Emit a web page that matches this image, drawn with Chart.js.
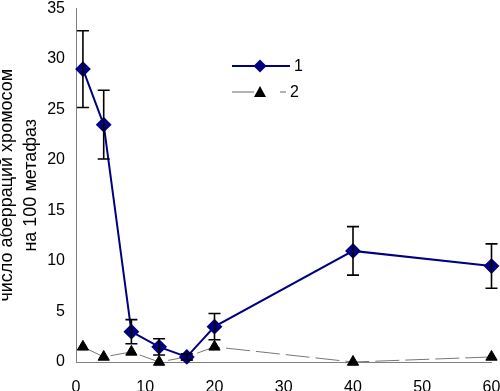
<!DOCTYPE html>
<html>
<head>
<meta charset="utf-8">
<script src="https://cdn.jsdelivr.net/npm/chart.js@4"></script>
<style>
  html, body { margin: 0; padding: 0; background: #fff; }
  #wrap { width: 500px; height: 391px; }
</style>
</head>
<body>
<div id="wrap"><canvas id="plot"></canvas></div>
<script>
// time points
const xs = [1, 4, 8, 12, 16, 20, 40, 60];
// series 1 with error bars
const s1 = [29, 23.5, 3, 1.5, 0.5, 3.5, 11, 9.5];
const s1Low = [25.2, 20.1, 1.8, 0.7, 0.2, 2.2, 8.6, 7.3];
const s1High = [32.8, 26.9, 4.2, 2.3, 0.8, 4.8, 13.4, 11.7];
// series 2
const s2 = [1.5, 0.5, 1.0, 0, 0.5, 1.5, 0, 0.5];
const labels = ["1", "2"];
const yTitle = ["число аберраций хромосом", "на 100 метафаз"];

const FONT = "'Liberation Sans', Arial, sans-serif";

const errorBars = {
  id: "errorBars",
  afterDatasetsDraw(chart) {
    const ctx = chart.ctx, x = chart.scales.x, y = chart.scales.y;
    ctx.save();
    ctx.strokeStyle = "#000";
    ctx.lineWidth = 1.6;
    xs.forEach((v, i) => {
      const px = x.getPixelForValue(v);
      const top = y.getPixelForValue(s1High[i]);
      const bot = y.getPixelForValue(s1Low[i]);
      ctx.beginPath();
      ctx.moveTo(px, top); ctx.lineTo(px, bot);
      ctx.moveTo(px - 6, top); ctx.lineTo(px + 6, top);
      ctx.moveTo(px - 6, bot); ctx.lineTo(px + 6, bot);
      ctx.stroke();
    });
    ctx.restore();
  }
};

const innerLegend = {
  id: "innerLegend",
  afterDraw(chart) {
    const ctx = chart.ctx;
    ctx.save();
    // series 1
    ctx.strokeStyle = "#000080"; ctx.lineWidth = 2;
    ctx.beginPath(); ctx.moveTo(232, 66); ctx.lineTo(290, 66); ctx.stroke();
    ctx.fillStyle = "#000080";
    ctx.beginPath();
    ctx.moveTo(260, 59.5); ctx.lineTo(266.5, 66); ctx.lineTo(260, 72.5); ctx.lineTo(253.5, 66);
    ctx.closePath(); ctx.fill();
    // series 2
    ctx.strokeStyle = "#666"; ctx.lineWidth = 1;
    ctx.beginPath(); ctx.moveTo(232, 92); ctx.lineTo(254, 92);
    ctx.moveTo(280, 92); ctx.lineTo(286, 92); ctx.stroke();
    ctx.fillStyle = "#000";
    ctx.beginPath();
    ctx.moveTo(260, 86); ctx.lineTo(266, 97); ctx.lineTo(254, 97);
    ctx.closePath(); ctx.fill();
    ctx.font = "16px " + FONT;
    ctx.textBaseline = "middle";
    ctx.fillText(labels[0], 294, 67);
    ctx.fillText(labels[1], 290, 93);
    ctx.restore();
  }
};

new Chart(document.getElementById("plot"), {
  type: "line",
  data: {
    datasets: [
      {
        label: labels[0],
        data: xs.map((v, i) => ({ x: v, y: s1[i] })),
        borderColor: "#000080",
        backgroundColor: "#000080",
        borderWidth: 2,
        pointStyle: "rectRot",
        pointRadius: 6.5,
        pointHoverRadius: 6.5,
        clip: false,
        order: 1
      },
      {
        label: labels[1],
        data: xs.map((v, i) => ({ x: v, y: s2[i] })),
        borderColor: "#777",
        backgroundColor: "#000",
        borderWidth: 1,
        borderDash: [24, 6],
        pointStyle: "triangle",
        pointRadius: 6.5,
        pointHoverRadius: 6.5,
        pointBorderColor: "#000",
        clip: false,
        order: 2
      }
    ]
  },
  options: {
    responsive: true,
    maintainAspectRatio: false,
    animation: false,
    layout: { padding: { top: 5, right: 8, left: 0, bottom: 0 } },
    plugins: {
      legend: { display: false },
      tooltip: { enabled: false }
    },
    scales: {
      x: {
        type: "linear",
        min: 0, max: 60,
        ticks: { stepSize: 10, color: "#000", font: { family: FONT, size: 16 }, padding: 12 },
        grid: { display: false, drawTicks: true, tickLength: 4, tickColor: "#808080" },
        border: { color: "#808080", width: 1 },
        afterFit(s) { s.height = 29; s.paddingLeft = 0; s.paddingRight = 0; }
      },
      y: {
        min: 0, max: 35,
        ticks: { stepSize: 5, color: "#000", font: { family: FONT, size: 16 }, padding: 7 },
        grid: { display: false, drawTicks: true, tickLength: 4, tickColor: "#808080" },
        border: { color: "#808080", width: 1 },
        title: {
          display: true,
          text: yTitle,
          color: "#000",
          font: { family: FONT, size: 18, lineHeight: 1.28 },
          padding: { top: -4, bottom: 0 }
        },
        afterFit(s) { s.width = 76; s.paddingTop = 0; s.paddingBottom = 0; }
      }
    }
  },
  plugins: [errorBars, innerLegend]
});
</script>
</body>
</html>
